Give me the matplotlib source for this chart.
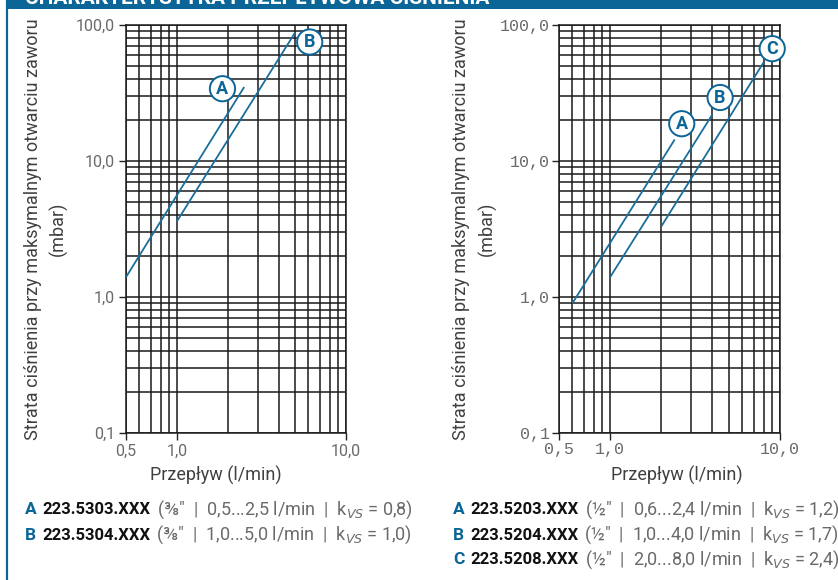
import matplotlib
matplotlib.use('Agg')
import matplotlib.pyplot as plt
from matplotlib.patches import Rectangle
from matplotlib.lines import Line2D
from matplotlib.ticker import FixedLocator, NullFormatter

# ---- data (flow l/min -> pressure drop mbar) ----
left_names = ['A', 'B']
left_flow = [[0.5, 2.5], [1.0, 5.0]]
left_dp = [[1.4, 35.0], [3.6, 88.0]]

right_names = ['A', 'B', 'C']
right_flow = [[0.6, 2.4], [1.0, 4.0], [2.0, 8.0]]
right_dp = [[0.9, 14.4], [1.4, 22.0], [3.3, 53.0]]

left_codes = ['223.5303.XXX', '223.5304.XXX']
left_info = ['(⅜"  |  0,5...2,5 l/min  |  k$_{VS}$ = 0,8)',
             '(⅜"  |  1,0...5,0 l/min  |  k$_{VS}$ = 1,0)']
right_codes = ['223.5203.XXX', '223.5204.XXX', '223.5208.XXX']
right_info = ['(½"  |  0,6...2,4 l/min  |  k$_{VS}$ = 1,2)',
              '(½"  |  1,0...4,0 l/min  |  k$_{VS}$ = 1,7)',
              '(½"  |  2,0...8,0 l/min  |  k$_{VS}$ = 2,4)']

# where the circled letters sit (data coords)
left_tags = [(1.86, 34.0), (6.1, 75.0)]
right_tags = [(2.64, 18.8), (4.44, 29.3), (9.0, 67.0)]

BLUE = '#0b6597'
LINE = '#1a6e9c'
GRAY = '#6a6a6a'
TXT = '#404040'

W, H = 838, 580
fig = plt.figure(figsize=(W/100, H/100), dpi=100, facecolor='white')


def px(x, y):
    """pixel (from top-left) -> figure fraction"""
    return x / W, 1 - y / H


# header band (title mostly cropped off, as in the source) + left border
fig.patches.append(Rectangle(px(7, 9), 1 - 7/W, 9/H, transform=fig.transFigure,
                             facecolor=BLUE, edgecolor='none', zorder=0))
fig.lines.append(Line2D([7/W, 7/W], [0, 1], transform=fig.transFigure, color=BLUE, lw=1.6))
fig.text(*px(25, 3.5), 'CHARAKTERYSTYKA PRZEPŁYWOWA CIŚNIENIA', color='white',
         fontsize=15, fontweight='bold', va='baseline', ha='left', family='Roboto')

xmaj = [0.5, 1.0, 10.0]
xmin = [0.6, 0.7, 0.8, 0.9, 2, 3, 4, 5, 6, 7, 8, 9]
ymaj = [0.1, 1.0, 10.0, 100.0]
ymin = [k * d for d in (0.1, 1, 10) for k in range(2, 10)]


def setup(rect, tick_font, tick_size, tick_pad, labx, laby1, laby2, lab_y_center):
    ax = fig.add_axes(rect)
    ax.set_xscale('log'); ax.set_yscale('log')
    ax.set_xlim(0.5, 10); ax.set_ylim(0.1, 100)
    ax.xaxis.set_major_locator(FixedLocator(xmaj))
    ax.xaxis.set_minor_locator(FixedLocator(xmin))
    ax.yaxis.set_major_locator(FixedLocator(ymaj))
    ax.yaxis.set_minor_locator(FixedLocator(ymin))
    ax.set_xticklabels(['0,5', '1,0', '10,0'])
    ax.set_yticklabels(['0,1', '1,0', '10,0', '100,0'])
    ax.xaxis.set_minor_formatter(NullFormatter())
    ax.yaxis.set_minor_formatter(NullFormatter())
    ax.tick_params(which='major', length=5, width=1.0, color='#222', pad=tick_pad,
                   labelsize=tick_size, labelcolor=GRAY)
    ax.tick_params(which='minor', length=0)
    for lab in ax.get_xticklabels() + ax.get_yticklabels():
        lab.set_family(tick_font)
    ax.grid(which='both', color='#1a1a1a', lw=1.1)
    for s in ax.spines.values():
        s.set_color('#1a1a1a'); s.set_linewidth(1.1)
    ax.set_axisbelow(True)
    # axis titles
    fig.text(*px(labx, 475), 'Przepływ (l/min)', ha='center', va='center',
             fontsize=13, color=TXT, family='Roboto')
    fig.text(*px(laby1, lab_y_center), 'Strata ciśnienia przy maksymalnym otwarciu zaworu',
             rotation=90, ha='center', va='center', fontsize=13, color=TXT, family='Roboto')
    fig.text(*px(laby2, lab_y_center), '(mbar)', rotation=90, ha='center', va='center',
             fontsize=13, color=TXT, family='Roboto')
    return ax


def draw(ax, names, flows, dps, tags):
    for n, q, p, (tx, ty) in zip(names, flows, dps, tags):
        ax.plot(q, p, color=LINE, lw=1.3, solid_capstyle='butt', zorder=3)
        ax.text(tx, ty, n, ha='center', va='center', color=BLUE, fontsize=13,
                fontweight='bold', family='Roboto', zorder=5,
                bbox=dict(boxstyle='circle,pad=0.2', fc='white', ec=BLUE, lw=1.4))


axl = setup([126/W, 1 - 433/H, 220/W, 408/H], 'Roboto', 11.5, 3, 216, 33, 58, 229)
draw(axl, left_names, left_flow, left_dp, left_tags)

axr = setup([559/W, 1 - 433/H, 221/W, 408/H], 'Liberation Mono', 12, 1.5, 677, 461, 487, 229)
draw(axr, right_names, right_flow, right_dp, right_tags)

# ---- legend lines under the charts ----
renderer = fig.canvas.get_renderer()


def runs(x0, y0, parts):
    x = x0
    for txt, color, weight, size, gap in parts:
        t = fig.text(*px(x, y0), txt, color=color, fontweight=weight, fontsize=size,
                     family='Roboto', ha='left', va='center')
        bb = t.get_window_extent(renderer)
        x += bb.width + gap


for i, (c, info) in enumerate(zip(left_codes, left_info)):
    runs(25, 510 + 25*i, [(left_names[i], BLUE, 'bold', 12.5, 6), (c, '#111', 'bold', 12, 6),
                          (info, GRAY, 'normal', 13, 0)])
for i, (c, info) in enumerate(zip(right_codes, right_info)):
    runs(453, 510 + 25*i, [(right_names[i], BLUE, 'bold', 12.5, 6), (c, '#111', 'bold', 12, 6),
                           (info, GRAY, 'normal', 13, 0)])

fig.savefig('out.png', dpi=100, facecolor='white')
